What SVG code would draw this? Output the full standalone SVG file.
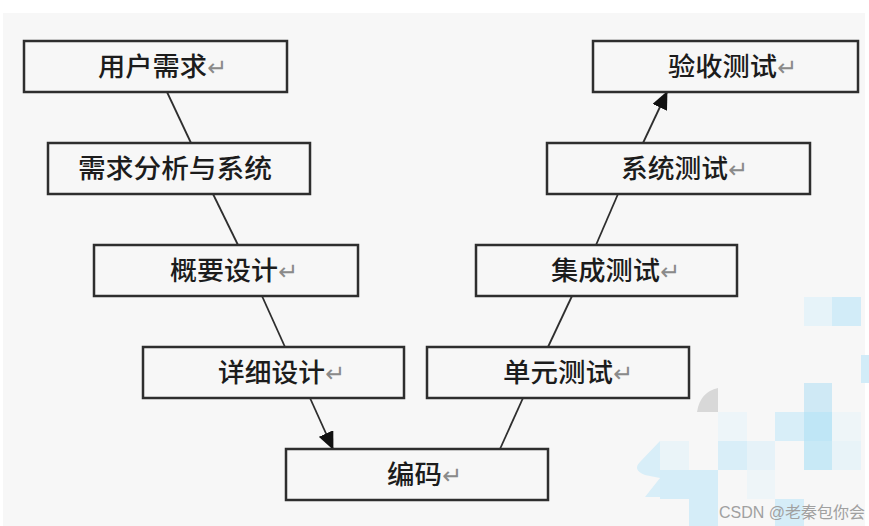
<svg xmlns="http://www.w3.org/2000/svg" width="869" height="526" viewBox="0 0 869 526">
<style>
.box{fill:#f7f7f7;stroke:#2e2e2e;stroke-width:2.5}
.lbl{font-family:"Noto Sans CJK SC","Liberation Sans",sans-serif;font-size:26px;font-weight:500;fill:#1c1c1c}
.ret{font-family:"DejaVu Sans",sans-serif;font-size:24px;fill:#8a8a8a}
.conn{stroke:#2e2e2e;stroke-width:1.8;fill:none}
</style>
<defs>
<marker id="arrBig" viewBox="0 0 18 16" refX="17" refY="8" markerWidth="18" markerHeight="16" orient="auto" markerUnits="userSpaceOnUse">
<path d="M0,0 L18,8 L0,16 Z" fill="#111"/>
</marker>
</defs>
<rect x="0" y="0" width="869" height="526" fill="#ffffff"/>
<rect x="3" y="13" width="862" height="513" fill="#f7f7f7"/>
<g id="watermark-bg">
<rect x="804" y="297" width="28" height="29" fill="#e6f3f9"/>
<rect x="832" y="297" width="29" height="29" fill="#d2ecf8"/>
<rect x="861" y="355" width="8" height="28" fill="#d2ecf8"/>
<rect x="804" y="383" width="28" height="29" fill="#cfe9f5"/>
<rect x="718" y="412" width="29" height="29" fill="#edf5f9"/>
<rect x="775" y="412" width="29" height="29" fill="#d8eef8"/>
<rect x="804" y="412" width="28" height="29" fill="#bfe6f6"/>
<rect x="832" y="412" width="29" height="29" fill="#eef5f8"/>
<rect x="660" y="441" width="29" height="29" fill="#eaf4f8"/>
<rect x="718" y="441" width="29" height="29" fill="#d9eef8"/>
<rect x="747" y="441" width="28" height="29" fill="#e6f2f8"/>
<rect x="804" y="441" width="28" height="29" fill="#c8e9f6"/>
<rect x="832" y="441" width="29" height="29" fill="#e8f3f8"/>
<rect x="660" y="470" width="58" height="29" fill="#d5edf8"/>
<rect x="747" y="470" width="28" height="29" fill="#eef5f8"/>
<rect x="689" y="499" width="29" height="27" fill="#d5edf8"/>
<rect x="775" y="499" width="29" height="27" fill="#d5edf8"/>
<path d="M697,412 Q700,392 718,388 L718,412 Z" fill="#d8d8d8"/>
<path d="M660,441 L640,462 Q632,470 645,475 L660,478 L645,497 L660,497 Z" fill="#d8eef8"/>
</g>
<g id="connectors">
<line class="conn" x1="167" y1="92" x2="191" y2="143"/>
<line class="conn" x1="213" y1="194" x2="238" y2="245"/>
<line class="conn" x1="262" y1="296" x2="285" y2="347"/>
<line class="conn" x1="310" y1="398" x2="333" y2="449" marker-end="url(#arrBig)"/>
<line class="conn" x1="500" y1="449" x2="523" y2="398"/>
<line class="conn" x1="548" y1="347" x2="572" y2="296"/>
<line class="conn" x1="596" y1="245" x2="618" y2="194"/>
<line class="conn" x1="643" y1="143" x2="667" y2="92" marker-end="url(#arrBig)"/>
</g>
<g id="n1"><rect class="box" x="24" y="41" width="263" height="51"/><text class="lbl" x="98" y="76" textLength="109" lengthAdjust="spacingAndGlyphs">用户需求</text><text class="ret" x="207" y="76">↵</text></g>
<g id="n2"><rect class="box" x="48" y="143" width="262" height="51"/><text class="lbl" x="78" y="178" textLength="194" lengthAdjust="spacingAndGlyphs">需求分析与系统</text></g>
<g id="n3"><rect class="box" x="94" y="245" width="264" height="51"/><text class="lbl" x="170" y="280" textLength="108" lengthAdjust="spacingAndGlyphs">概要设计</text><text class="ret" x="278" y="280">↵</text></g>
<g id="n4"><rect class="box" x="143" y="347" width="261" height="51"/><text class="lbl" x="218" y="382" textLength="107" lengthAdjust="spacingAndGlyphs">详细设计</text><text class="ret" x="325" y="382">↵</text></g>
<g id="n5"><rect class="box" x="286" y="449" width="262" height="51"/><text class="lbl" x="387" y="484" textLength="55" lengthAdjust="spacingAndGlyphs">编码</text><text class="ret" x="442" y="484">↵</text></g>
<g id="n6"><rect class="box" x="427" y="347" width="262" height="51"/><text class="lbl" x="503" y="382" textLength="110" lengthAdjust="spacingAndGlyphs">单元测试</text><text class="ret" x="613" y="382">↵</text></g>
<g id="n7"><rect class="box" x="476" y="245" width="261" height="51"/><text class="lbl" x="551" y="280" textLength="109" lengthAdjust="spacingAndGlyphs">集成测试</text><text class="ret" x="660" y="280">↵</text></g>
<g id="n8"><rect class="box" x="547" y="143" width="263" height="51"/><text class="lbl" x="621" y="178" textLength="107" lengthAdjust="spacingAndGlyphs">系统测试</text><text class="ret" x="728" y="178">↵</text></g>
<g id="n9"><rect class="box" x="593" y="41" width="265" height="51"/><text class="lbl" x="668" y="76" textLength="109" lengthAdjust="spacingAndGlyphs">验收测试</text><text class="ret" x="777" y="76">↵</text></g>
<text x="719" y="518" font-family="'Liberation Sans','Noto Sans CJK SC',sans-serif" font-size="16" fill="#a0a0a0" textLength="146" lengthAdjust="spacingAndGlyphs">CSDN @老秦包你会</text>
</svg>
